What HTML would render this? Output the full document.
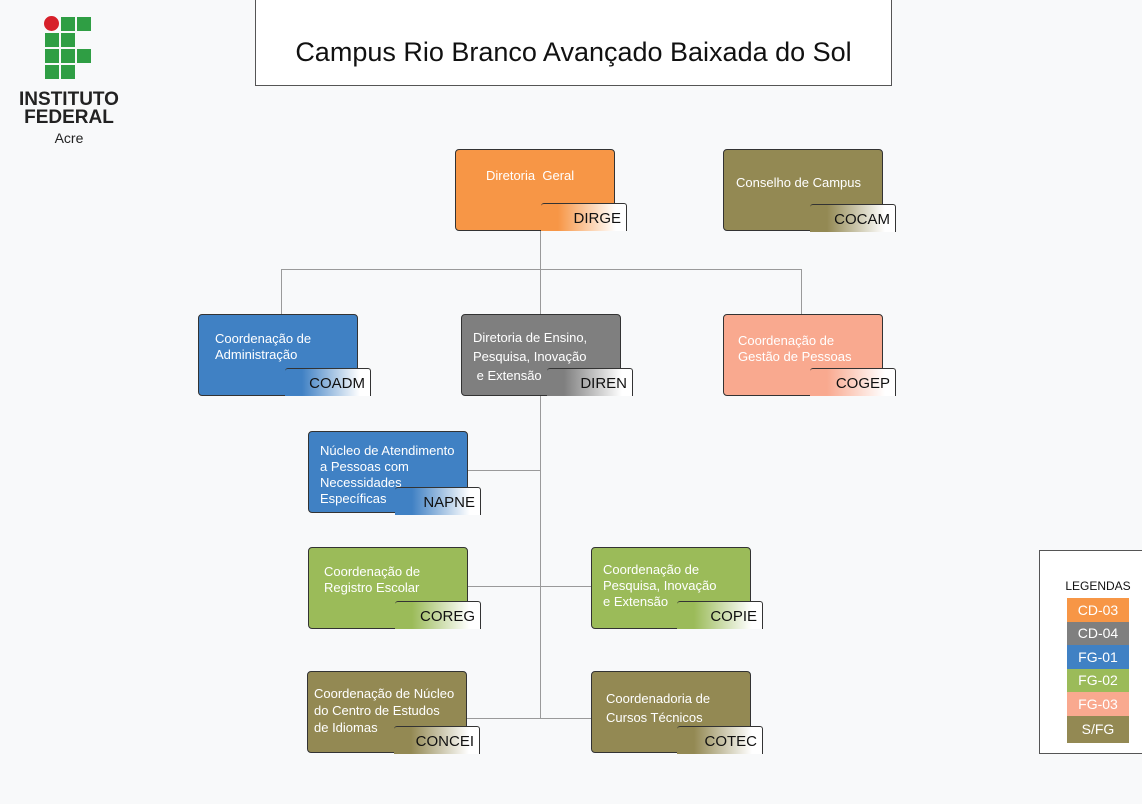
<!DOCTYPE html>
<html><head><meta charset="utf-8"><style>
body{margin:0;width:1142px;height:804px;background:#f8f9fa;position:relative;overflow:hidden;font-family:"Liberation Sans",sans-serif}
.a{position:absolute}
.b{position:absolute;width:160px;height:82px;border:1px solid #333;border-radius:4px;box-sizing:border-box;color:#fff;font-size:13px;line-height:16px}
.b .t{position:absolute}
.g{position:absolute;width:86px;height:28px;box-sizing:border-box;border:1px solid #333;border-radius:3px 3px 0 0;border-left:none;border-bottom:none;background:#fff;font-size:15px;color:#111;text-align:right;padding:6px 5px 0 0}
.l{position:absolute;background:#9a9a9a}
.sq{position:absolute;width:14px;height:14px;background:#2f9e44}
.lg{position:absolute;left:1067px;width:62px;color:#fff;font-size:14px;text-align:center}
</style></head><body>
<!-- logo -->
<div class="a" style="left:44px;top:16px;width:15px;height:15px;border-radius:50%;background:#d7202a"></div>
<div class="sq" style="left:61px;top:17px"></div><div class="sq" style="left:77px;top:17px"></div>
<div class="sq" style="left:45px;top:33px"></div><div class="sq" style="left:61px;top:33px"></div>
<div class="sq" style="left:45px;top:49px"></div><div class="sq" style="left:61px;top:49px"></div><div class="sq" style="left:77px;top:49px"></div>
<div class="sq" style="left:45px;top:65px"></div><div class="sq" style="left:61px;top:65px"></div>
<div class="a" style="left:8px;top:91px;width:122px;text-align:center;font-weight:bold;font-size:19px;line-height:18px;color:#222">INSTITUTO<br>FEDERAL</div>
<div class="a" style="left:10px;top:130px;width:118px;text-align:center;font-size:14px;color:#222">Acre</div>
<!-- title -->
<div class="a" style="left:255px;top:-1px;width:637px;height:87px;border:1px solid #555;box-sizing:border-box;background:#fff"></div>
<div class="a" style="left:255px;top:37px;width:637px;text-align:center;font-size:27px;color:#111">Campus Rio Branco Avançado Baixada do Sol</div>
<!-- lines -->
<div class="l" style="left:540px;top:231px;width:1px;height:83px"></div>
<div class="l" style="left:281px;top:269px;width:520px;height:1px"></div>
<div class="l" style="left:281px;top:269px;width:1px;height:45px"></div>
<div class="l" style="left:801px;top:269px;width:1px;height:45px"></div>
<div class="l" style="left:540px;top:396px;width:1px;height:322px"></div>
<div class="l" style="left:468px;top:470px;width:72px;height:1px"></div>
<div class="l" style="left:468px;top:586px;width:123px;height:1px"></div>
<div class="l" style="left:467px;top:718px;width:124px;height:1px"></div>
<!-- boxes -->
<div class="b" style="left:455px;top:149px;background:#f79646"><div class="t" style="left:30px;top:18px">Diretoria&nbsp; Geral</div></div>
<div class="g" style="left:541px;top:203px;background:linear-gradient(90deg,#f79646 0%,#f79646 20%,#fff 88%)">DIRGE</div>
<div class="b" style="left:723px;top:149px;background:#938953"><div class="t" style="left:12px;top:25px">Conselho de Campus</div></div>
<div class="g" style="left:810px;top:204px;background:linear-gradient(90deg,#938953 0%,#938953 20%,#fff 88%)">COCAM</div>
<div class="b" style="left:198px;top:314px;background:#4081c4"><div class="t" style="left:16px;top:16px">Coordenação de<br>Administração</div></div>
<div class="g" style="left:285px;top:368px;background:linear-gradient(90deg,#4081c4 0%,#4081c4 20%,#fff 88%)">COADM</div>
<div class="b" style="left:461px;top:314px;background:#7f7f7f"><div class="t" style="left:11px;top:13px;line-height:19px">Diretoria de Ensino,<br>Pesquisa, Inovação<br>&nbsp;e Extensão</div></div>
<div class="g" style="left:547px;top:368px;background:linear-gradient(90deg,#7f7f7f 0%,#7f7f7f 20%,#fff 88%)">DIREN</div>
<div class="b" style="left:723px;top:314px;background:#f9a98f"><div class="t" style="left:14px;top:18px">Coordenação de<br>Gestão de Pessoas</div></div>
<div class="g" style="left:810px;top:368px;background:linear-gradient(90deg,#f9a98f 0%,#f9a98f 20%,#fff 88%)">COGEP</div>
<div class="b" style="left:308px;top:431px;background:#4081c4"><div class="t" style="left:11px;top:11px">Núcleo de Atendimento<br>a Pessoas com<br>Necessidades<br>Específicas</div></div>
<div class="g" style="left:395px;top:487px;background:linear-gradient(90deg,#4081c4 0%,#4081c4 20%,#fff 88%)">NAPNE</div>
<div class="b" style="left:308px;top:547px;background:#9bbb59"><div class="t" style="left:15px;top:16px">Coordenação de<br>Registro Escolar</div></div>
<div class="g" style="left:395px;top:601px;background:linear-gradient(90deg,#9bbb59 0%,#9bbb59 20%,#fff 88%)">COREG</div>
<div class="b" style="left:591px;top:547px;background:#9bbb59"><div class="t" style="left:11px;top:14px">Coordenação de<br>Pesquisa, Inovação<br>e Extensão</div></div>
<div class="g" style="left:677px;top:601px;background:linear-gradient(90deg,#9bbb59 0%,#9bbb59 20%,#fff 88%)">COPIE</div>
<div class="b" style="left:307px;top:671px;background:#938953"><div class="t" style="left:6px;top:13px;line-height:17px">Coordenação de Núcleo<br>do Centro de Estudos<br>de Idiomas</div></div>
<div class="g" style="left:394px;top:726px;background:linear-gradient(90deg,#938953 0%,#938953 20%,#fff 88%)">CONCEI</div>
<div class="b" style="left:591px;top:671px;background:#938953"><div class="t" style="left:14px;top:17px;line-height:19px">Coordenadoria de<br>Cursos Técnicos</div></div>
<div class="g" style="left:677px;top:726px;background:linear-gradient(90deg,#938953 0%,#938953 20%,#fff 88%)">COTEC</div>
<!-- legend -->
<div class="a" style="left:1039px;top:550px;width:110px;height:204px;border:1px solid #555;box-sizing:border-box;background:#fff"></div>
<div class="a" style="left:1039px;top:579px;width:118px;text-align:center;font-size:12px;color:#111">LEGENDAS</div>
<div class="lg" style="top:598px;height:24px;line-height:24px;background:#f79646">CD-03</div>
<div class="lg" style="top:622px;height:23px;line-height:23px;background:#7f7f7f">CD-04</div>
<div class="lg" style="top:645px;height:24px;line-height:24px;background:#4081c4">FG-01</div>
<div class="lg" style="top:669px;height:23px;line-height:23px;background:#9bbb59">FG-02</div>
<div class="lg" style="top:692px;height:24px;line-height:24px;background:#f9a98f">FG-03</div>
<div class="lg" style="top:716px;height:27px;line-height:27px;background:#938953">S/FG</div>
</body></html>
